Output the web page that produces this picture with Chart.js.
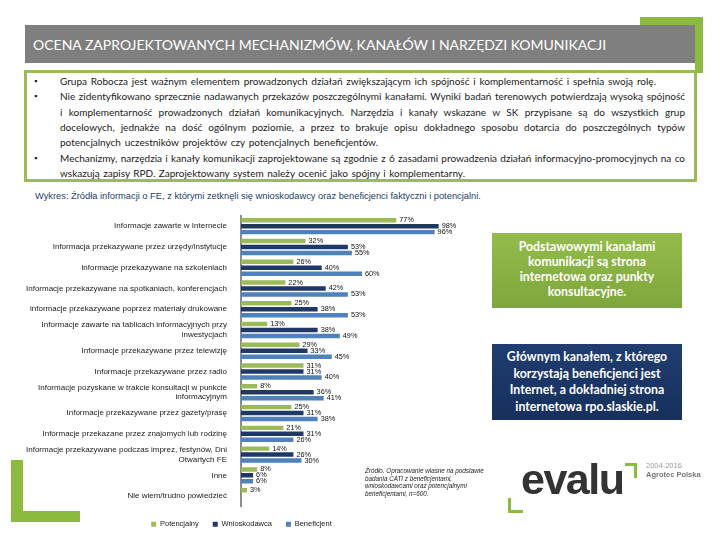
<!DOCTYPE html>
<html>
<head>
<meta charset="utf-8">
<script src="https://cdn.jsdelivr.net/npm/chart.js@4.4.1/dist/chart.umd.min.js"></script>
<style>
  body { margin: 0; width: 720px; height: 540px; background: #fff; position: relative; overflow: hidden; font-family: Lato, "Liberation Sans", sans-serif; }
  .abs { position: absolute; }
  #header { left: 25px; top: 25px; width: 670px; height: 38px; background: #7f7f7f; }
  #header span { position: absolute; left: 8px; top: 11px; color: #fff; font-size: 14px; white-space: nowrap; }
  #box { left: 24px; top: 70px; width: 667px; height: 106px; border: 3px solid #9bbb59; background: #fff; }
  .line { position: absolute; left: 60px; height: 15px; line-height: 15px; font-size: 10px; color: #1a1a1a; text-align: justify; text-align-last: justify; }
  .bullet { position: absolute; left: 34px; font-size: 8px; color: #111; line-height: 15px; }
  #title { left: 35px; top: 191px; font-size: 9.3px; color: #24406b; white-space: nowrap; font-family: "Liberation Sans", sans-serif; }
  .callout { left: 492px; width: 190px; color: #fff; font-weight: bold; font-size: 12.3px; text-align: center; box-sizing: border-box; }
  #c1 { top: 233px; height: 75px; padding-top: 6px; line-height: 15px; background: linear-gradient(#94bc4c, #7ea63b); }
  #c2 { top: 344px; height: 76px; padding-top: 5px; line-height: 16.7px; background: linear-gradient(#203d70, #17305c); }
  #source { left: 365px; top: 467px; font-size: 6.3px; font-style: italic; line-height: 7.6px; color: #222; font-family: "Liberation Sans", sans-serif; }
  .green { background: #8cba3e; }
</style>
</head>
<body>
<div class="abs green" style="left:640px;top:17px;width:63px;height:8px;"></div>
<div class="abs green" style="left:695px;top:17px;width:8px;height:56px;"></div>
<div id="header" class="abs"><span>OCENA ZAPROJEKTOWANYCH MECHANIZMÓW, KANAŁÓW I NARZĘDZI KOMUNIKACJI</span></div>
<div id="box" class="abs"></div>

<div class="bullet" style="top:74px;">▪</div>
<div class="bullet" style="top:89px;">▪</div>
<div class="bullet" style="top:151px;">▪</div>
<div class="line" style="top:74px;width:596px;">Grupa Robocza jest ważnym elementem prowadzonych działań zwiększającym ich spójność i komplementarność i spełnia swoją rolę.</div>
<div class="line" style="top:89px;width:625px;">Nie zidentyfikowano sprzecznie nadawanych przekazów poszczególnymi kanałami. Wyniki badań terenowych potwierdzają wysoką spójność</div>
<div class="line" style="top:105px;width:625px;">i komplementarność prowadzonych działań komunikacyjnych. Narzędzia i kanały wskazane w SK przypisane są do wszystkich grup</div>
<div class="line" style="top:120px;width:625px;">docelowych, jednakże na dość ogólnym poziomie, a przez to brakuje opisu dokładnego sposobu dotarcia do poszczególnych typów</div>
<div class="line" style="top:135px;width:318px;">potencjalnych uczestników projektów czy potencjalnych beneficjentów.</div>
<div class="line" style="top:151px;width:625px;">Mechanizmy, narzędzia i kanały komunikacji zaprojektowane są zgodnie z 6 zasadami prowadzenia działań informacyjno-promocyjnych na co</div>
<div class="line" style="top:166px;width:405px;">wskazują zapisy RPD. Zaprojektowany system należy ocenić jako spójny i komplementarny.</div>

<div id="title" class="abs">Wykres: Źródła informacji o FE, z którymi zetknęli się wnioskodawcy oraz beneficjenci faktyczni i potencjalni.</div>

<div class="abs" style="left:0;top:205px;width:490px;height:335px;"><canvas id="chart"></canvas></div>

<div id="c1" class="abs callout">Podstawowymi kanałami<br>komunikacji są strona<br>internetowa oraz punkty<br>konsultacyjne.</div>
<div id="c2" class="abs callout">Głównym kanałem, z którego<br>korzystają beneficjenci jest<br>Internet, a dokładniej strona<br>internetowa rpo.slaskie.pl.</div>

<div id="source" class="abs">Źródło. Opracowanie własne na podstawie<br>badania CATI z beneficjentami,<br>wnioskodawcami oraz potencjalnymi<br>beneficjentami, n=600.</div>

<!-- green corner at bottom left -->
<div class="abs green" style="left:11px;top:460px;width:12px;height:62px;"></div>
<div class="abs green" style="left:11px;top:511px;width:69px;height:11px;"></div>

<!-- evalu logo -->
<div class="abs green" style="left:625px;top:463px;width:12px;height:3px;"></div>
<div class="abs green" style="left:634px;top:463px;width:3px;height:15px;"></div>
<div class="abs green" style="left:508px;top:498px;width:3px;height:15px;"></div>
<div class="abs green" style="left:508px;top:510px;width:15px;height:3px;"></div>
<div class="abs" style="left:521px;top:457px;font-family:'Liberation Sans',sans-serif;font-weight:bold;font-size:43px;color:#333;letter-spacing:-1.5px;line-height:44px;">evalu</div>
<div class="abs" style="left:646px;top:461px;font-family:'Liberation Sans',sans-serif;font-size:7.5px;color:#9a9a9a;line-height:9px;">2004-2016<br><b style="color:#777;">Agrotec Polska</b></div>

<script>
// categories and values (percent)
const categories = [
    "Informacje zawarte w Internecie",
    "Informacja przekazywane przez urzędy/instytucje",
    "Informacje przekazywane na szkoleniach",
    "Informacje przekazywane na spotkaniach, konferencjach",
    "informacje przekazywane poprzez materiały drukowane",
    ["Informacje zawarte na tablicach informacyjnych przy", "inwestycjach"],
    "Informacje przekazywane przez telewizję",
    "Informacje przekazywane przez radio",
    ["Informacje pozyskane w trakcie konsultacji w punkcie", "informacyjnym"],
    "Informacje przekazywane przez gazety/prasę",
    "Informacje przekazane przez znajomych lub rodzinę",
    ["Informacje przekazywane podczas imprez, festynów, Dni", "Otwartych FE"],
    "Inne",
    "Nie wiem/trudno powiedzieć"
];
const potencjalny   = [77, 32, 26, 22, 25, 13, 29, 31, 8, 25, 21, 14, 8, 3];
const wnioskodawca  = [98, 53, 40, 42, 38, 38, 33, 31, 36, 31, 31, 26, 6, null];
const beneficjent   = [96, 55, 60, 53, 53, 49, 45, 40, 41, 38, 26, 30, 6, null];

// writes "xx%" just after each bar end
const valueLabels = {
    id: 'valueLabels',
    afterDatasetsDraw(chart) {
        const ctx = chart.ctx;
        ctx.save();
        ctx.font = '7.3px "Liberation Sans", sans-serif';
        ctx.fillStyle = '#111';
        ctx.textBaseline = 'middle';
        chart.data.datasets.forEach(function (ds, i) {
            chart.getDatasetMeta(i).data.forEach(function (bar, j) {
                if (ds.data[j] == null) return;
                ctx.fillText(ds.data[j] + '%', bar.x + 3, bar.y);
            });
        });
        ctx.restore();
    }
};

new Chart(document.getElementById('chart'), {
    type: 'bar',
    data: {
        labels: categories,
        datasets: [
            { label: 'Potencjalny', data: potencjalny, backgroundColor: '#9bbb59' },
            { label: 'Wnioskodawca', data: wnioskodawca, backgroundColor: '#1f3864' },
            { label: 'Beneficjent', data: beneficjent, backgroundColor: '#4f81bd' }
        ]
    },
    options: {
        indexAxis: 'y',
        responsive: true,
        maintainAspectRatio: false,
        animation: false,
        categoryPercentage: 0.86,
        barPercentage: 0.75,
        layout: { padding: { top: 6, right: 7, bottom: 2, left: 0 } },
        scales: {
            x: { display: false, min: 0, max: 120 },
            y: {
                grid: { display: false },
                border: { display: true, color: '#8c8c8c', width: 2 },
                ticks: {
                    color: '#1a1a1a',
                    padding: 6,
                    autoSkip: false,
                    font: { family: '"Liberation Sans", sans-serif', size: 8 }
                },
                afterFit: function (scale) { scale.width = 241; }
            }
        },
        plugins: {
            legend: {
                position: 'bottom',
                labels: {
                    boxWidth: 5, boxHeight: 5, padding: 14, color: '#1a1a1a',
                    font: { family: '"Liberation Sans", sans-serif', size: 7.5 }
                }
            },
            tooltip: { enabled: false }
        }
    },
    plugins: [valueLabels]
});
</script>
</body>
</html>
